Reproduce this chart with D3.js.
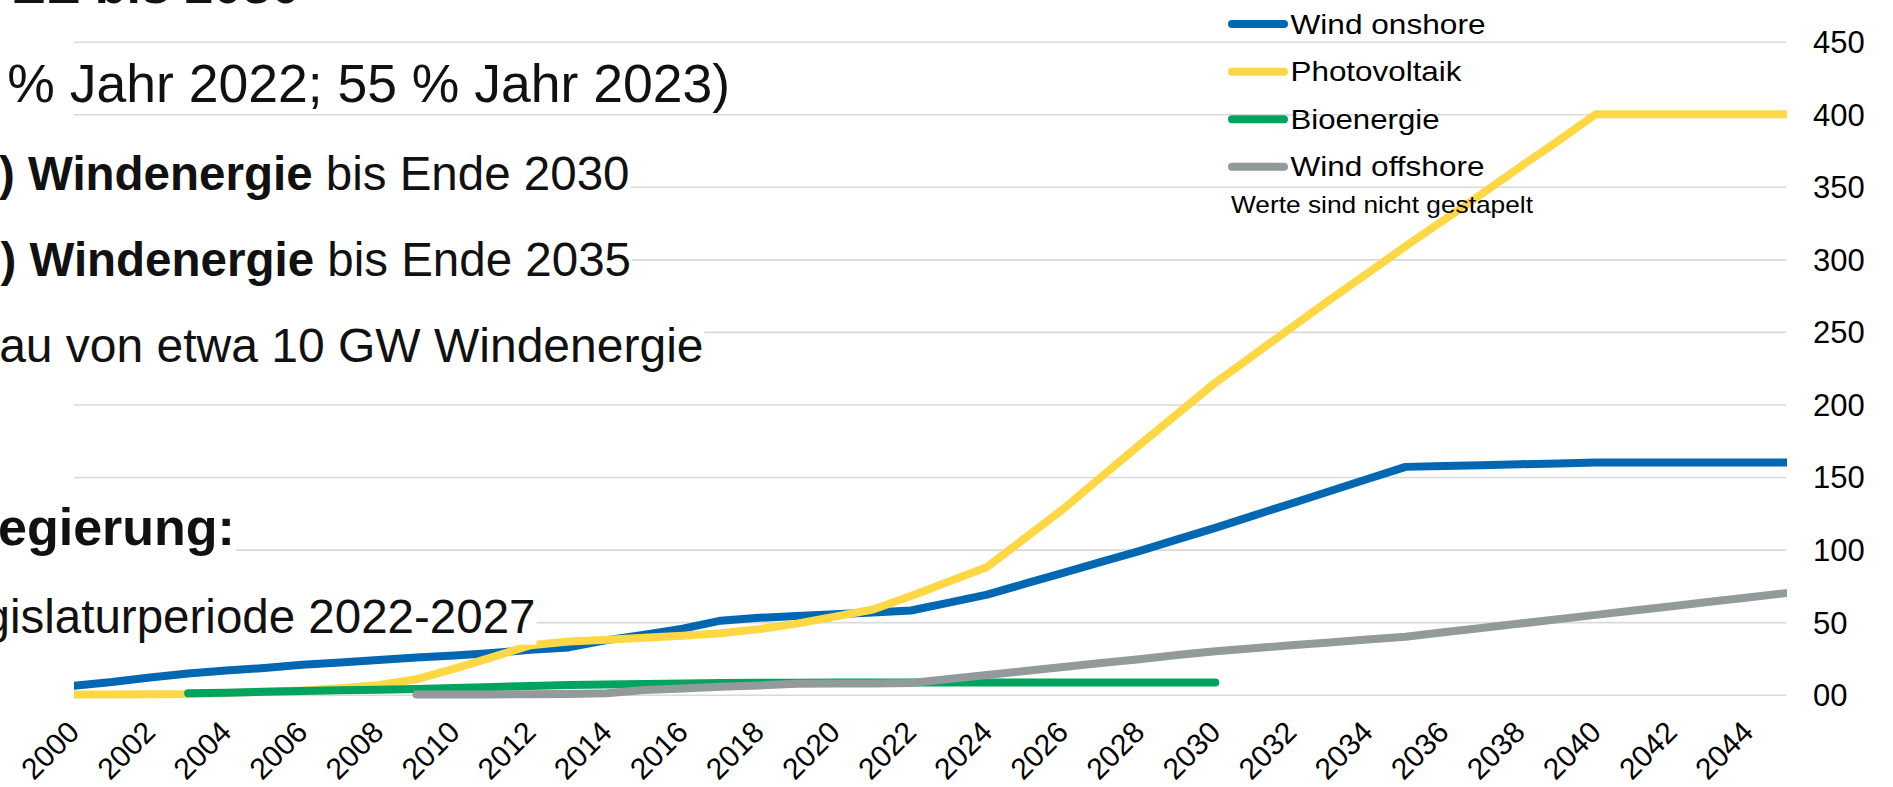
<!DOCTYPE html>
<html><head><meta charset="utf-8">
<script src="https://cdn.jsdelivr.net/npm/d3@7"></script>
<style>
html,body{margin:0;padding:0;background:#fff;overflow:hidden}
svg{display:block}
text{font-family:"Liberation Sans",Arial,sans-serif}
</style>
</head><body>
<svg id="c" width="1893" height="787"></svg>
<script>
// ---------- data ----------
const years = [2000,2001,2002,2003,2004,2005,2006,2007,2008,2009,2010,2011,2012,2013,2014,2015,2016,2017,2018,2019,
  2020,2021,2022,2023,2024,2025,2026,2027,2028,2029,2030,2031,2032,2033,2034,2035,2036,2037,2038,2039,
  2040,2041,2042,2043,2044,2045];
const windOnshore = [6.1,8.7,11.9,14.6,16.6,18.4,20.6,22.2,23.9,25.7,27.0,28.7,30.9,32.6,37.6,41.3,45.5,51.0,53.0,54.3,
  55.5,56.6,58.0,63.5,69,76.5,84,91.5,99,107,115,123.4,131.8,140.2,148.6,157,157.6,158.2,158.8,159.4,
  160,160,160,160,160,160];
const photovoltaik = [0.1,0.2,0.3,0.4,1.1,2.1,2.9,4.5,6.5,10.6,18.0,25.9,34.1,36.7,37.9,39.2,40.7,42.3,45.2,49.0,
  53.8,58.7,68,78,88,108,128,150,172,193.5,215,234,253,272,290.5,309,327,345,363.5,381.5,
  400,400,400,400,400,400];
const bioenergie = [null,null,null,1.0,1.4,2.0,2.5,3.0,3.4,4.0,4.6,5.3,6.0,6.6,7.1,7.4,7.7,8.0,8.2,8.3,
  8.4,8.4,8.4,8.4,8.4,8.4,8.4,8.4,8.4,8.4,8.4,null,null,null,null,null,null,null,null,null,
  null,null,null,null,null,null];
const windOffshore = [null,null,null,null,null,null,null,null,null,0.1,0.1,0.2,0.3,0.5,1.0,3.3,4.2,5.4,6.4,7.5,
  7.8,7.8,8.1,10.8,13.6,16.3,19.1,21.8,24.5,27.3,30,32,34,36,38,40,43,46,49,52,
  55,58,61,64,67,70];
const seriesNames = ["Wind onshore","Photovoltaik","Bioenergie","Wind offshore"];
const yTicks = [0,50,100,150,200,250,300,350,400,450];
const yTickLabels = ["00","50","100","150","200","250","300","350","400","450"];
const xTickYears = [2000,2002,2004,2006,2008,2010,2012,2014,2016,2018,2020,2022,2024,2026,2028,2030,2032,2034,2036,2038,2040,2042,2044];
const legendNote = "Werte sind nicht gestapelt";
// slide text behind the chart (partly cut off at the left edge)
const slideTitle = "EE bis 2030";
const slideLine1 = "% Jahr 2022; 55 % Jahr 2023)";
const slideLine2 = [")", " Windenergie", " bis Ende 2030"];
const slideLine3 = [")", " Windenergie", " bis Ende 2035"];
const slideLine4 = "au von etwa 10 GW Windenergie";
const slideHeading2 = "egierung:";
const slideLine5 = "gislaturperiode 2022-2027";

// ---------- styles ----------
const colors = ["#0067B3", "#FED844", "#00A45E", "#939A9C"];
const W = 1893, H = 787;
const plot = {left: 74, right: 1786, top: 41.7, bottom: 694.7};
const FONT = '"Liberation Sans", Arial, sans-serif';

const svg = d3.select("#c");
svg.append("rect").attr("width", W).attr("height", H).attr("fill", "#fff");

const x = d3.scalePoint().domain(years).range([plot.left, plot.right]).padding(0);
const y = d3.scaleLinear().domain([0, 450]).range([plot.bottom, plot.top]);

// gridlines
svg.append("g").attr("class","grid")
  .call(d3.axisLeft(y).tickValues(yTicks).tickSize(-(plot.right - plot.left)).tickFormat(""))
  .attr("transform", `translate(${plot.left},0)`)
  .call(g => g.select(".domain").remove())
  .call(g => g.selectAll("line").attr("stroke", "#d9d9d9").attr("stroke-width", 1.6));

// y axis labels (right)
svg.append("g")
  .attr("transform", `translate(${plot.right},0)`)
  .call(d3.axisRight(y).tickValues(yTicks).tickSize(0).tickPadding(27)
        .tickFormat(d => yTickLabels[yTicks.indexOf(d)]))
  .call(g => g.select(".domain").remove())
  .attr("font-family", FONT).attr("font-size", 31)
  .call(g => g.selectAll("text").attr("fill", "#000").attr("dy", "0.35em"));

// x axis labels (rotated)
svg.append("g")
  .attr("transform", `translate(0,${plot.bottom})`)
  .call(d3.axisBottom(x).tickValues(xTickYears).tickSize(0))
  .call(g => g.select(".domain").remove())
  .attr("font-family", FONT).attr("font-size", 30)
  .call(g => g.selectAll("text")
    .attr("fill", "#000").attr("x", 0).attr("y", 0).attr("dy", 0)
    .attr("transform", "translate(6.5,39.3) rotate(-45)")
    .style("text-anchor", "end"));

// lines
svg.append("defs").append("clipPath").attr("id", "clip")
  .append("rect").attr("x", plot.left).attr("y", 0).attr("width", plot.right - plot.left + 1).attr("height", H);

const seriesValues = [windOnshore, photovoltaik, bioenergie, windOffshore];
const line = d3.line()
  .defined(d => d.v != null)
  .x(d => x(d.year)).y(d => y(d.v));

const lg = svg.append("g").attr("clip-path", "url(#clip)");
seriesValues.forEach((vals, i) => {
  const pts = years.map((yr, j) => ({year: yr, v: vals[j]}));
  lg.append("path").datum(pts)
    .attr("d", line)
    .attr("fill", "none")
    .attr("stroke", colors[i])
    .attr("stroke-width", 8)
    .attr("stroke-linecap", "round")
    .attr("stroke-linejoin", "round");
});

// slide text with white backing boxes
function slideText(segs, opts) {
  const g = svg.append("g");
  const t = g.append("text")
    .attr("x", opts.x).attr("y", opts.y)
    .attr("font-size", opts.size)
    .attr("text-anchor", opts.anchor || "start")
    .attr("fill", "#111");
  segs.forEach(s => t.append("tspan").text(s.t).attr("font-weight", s.b ? "bold" : "normal"));
  if (opts.box) {
    const bb = t.node().getBBox();
    g.insert("rect", "text")
      .attr("x", bb.x - 20).attr("y", bb.y)
      .attr("width", bb.width + 20 + (opts.padR || 1)).attr("height", bb.height + (opts.padB || 0))
      .attr("fill", "#fff");
  }
  return t;
}
slideText([{t: slideTitle, b: true}], {x: 11, y: 3, size: 52});
slideText([{t: slideLine1}], {x: 730, y: 102, size: 53.5, anchor: "end"});
slideText([{t: slideLine2[0], b: true}, {t: slideLine2[1], b: true}, {t: slideLine2[2]}], {x: 629.5, y: 190, size: 47.5, anchor: "end", box: true});
slideText([{t: slideLine3[0], b: true}, {t: slideLine3[1], b: true}, {t: slideLine3[2]}], {x: 631, y: 276, size: 47.5, anchor: "end", box: true});
slideText([{t: slideLine4}], {x: 703.5, y: 362, size: 48, anchor: "end", box: true});
slideText([{t: slideHeading2, b: true}], {x: -2, y: 545, size: 52, box: true});
slideText([{t: slideLine5}], {x: 535.5, y: 632.7, size: 47.5, anchor: "end", box: true, padB: 2});

// legend
const legendY = [24, 71.7, 119.3, 166.7];
const legendW = [195, 171, 149, 194];
const leg = svg.append("g");
seriesNames.forEach((name, i) => {
  leg.append("line")
    .attr("x1", 1232).attr("x2", 1284)
    .attr("y1", legendY[i]).attr("y2", legendY[i])
    .attr("stroke", colors[i]).attr("stroke-width", 8).attr("stroke-linecap", "round");
  leg.append("text")
    .attr("x", 1290.5).attr("y", legendY[i] + 9.5)
    .attr("font-size", 28).attr("fill", "#000")
    .attr("textLength", legendW[i]).attr("lengthAdjust", "spacingAndGlyphs")
    .text(name);
});
leg.append("text")
  .attr("x", 1231).attr("y", 213.3)
  .attr("font-size", 24).attr("fill", "#000")
  .attr("textLength", 302).attr("lengthAdjust", "spacingAndGlyphs")
  .text(legendNote);
</script>
</body></html>
